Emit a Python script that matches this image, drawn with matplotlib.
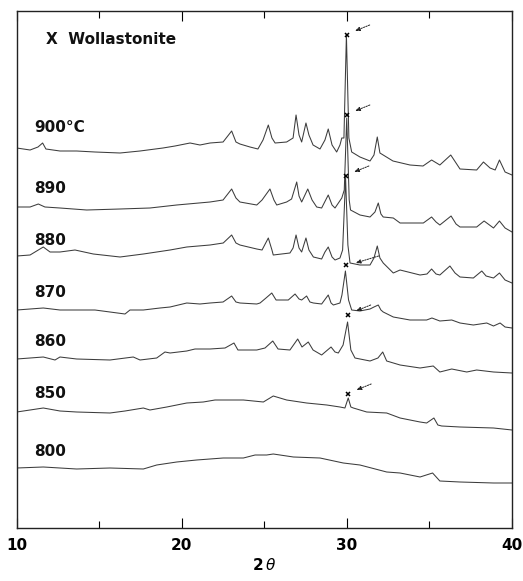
import matplotlib
matplotlib.use("Agg")
import matplotlib.pyplot as plt

# ---------------- data (2theta, intensity in arbitrary stacked units) ----------------
tt_900 = [10.00, 10.81, 11.29, 11.57, 11.77, 12.62, 13.63, 14.74, 16.26, 17.47, 18.86, 19.59,
          20.50, 21.10, 21.71, 22.50, 23.02, 23.28, 23.52, 24.13, 24.61, 24.92, 25.24, 25.46,
          25.65, 26.35, 26.74, 26.92, 27.10, 27.26, 27.52, 27.70, 27.95, 28.37, 28.67, 28.87,
          29.10, 29.38, 29.58, 29.69, 29.82, 29.97, 30.12, 30.29, 30.79, 31.40, 31.64, 31.84,
          32.00, 32.79, 33.82, 34.61, 35.13, 35.63, 36.29, 36.85, 37.86, 38.27, 38.67, 38.98,
          39.24, 39.58, 40.00]
I_900 = [380, 378, 381, 385, 379, 377, 377, 376, 375, 377, 380, 382,
         385, 383, 385, 386, 397, 386, 384, 381, 379, 388, 403, 390,
         385, 386, 390, 413, 393, 386, 405, 393, 383, 379, 388, 399,
         383, 376, 383, 390, 390, 493, 390, 376, 371, 367, 373, 391,
         375, 367, 363, 362, 368, 363, 373, 359, 358, 366, 360, 358,
         368, 356, 353]

tt_890 = [10.00, 10.81, 11.31, 11.71, 12.62, 14.24, 16.26, 18.07, 19.69, 21.71, 22.50, 23.02,
          23.28, 23.52, 24.54, 24.86, 25.34, 25.58, 25.75, 26.35, 26.65, 26.96, 27.10, 27.26,
          27.63, 27.89, 28.17, 28.47, 28.87, 29.10, 29.28, 29.69, 29.84, 29.99, 30.14, 30.22,
          30.79, 31.40, 31.70, 31.90, 32.06, 32.20, 32.81, 33.22, 34.63, 35.13, 35.40, 35.63,
          36.31, 36.61, 36.85, 37.86, 38.31, 38.88, 39.24, 39.58, 40.00]
I_890 = [321, 321, 324, 321, 320, 318, 319, 320, 323, 326, 328, 339,
         330, 326, 323, 328, 339, 328, 323, 326, 329, 346, 332, 326,
         339, 328, 321, 320, 333, 323, 320, 330, 338, 410, 328, 318,
         313, 311, 316, 325, 314, 311, 310, 305, 305, 311, 306, 303,
         312, 304, 301, 301, 307, 300, 307, 300, 296]

tt_880 = [10.00, 10.81, 11.61, 12.02, 12.62, 13.53, 14.64, 16.26, 17.67, 19.29, 20.30, 21.71,
          22.51, 23.02, 23.28, 23.52, 24.54, 24.86, 25.24, 25.46, 25.54, 26.55, 26.74, 26.92,
          27.10, 27.26, 27.52, 27.70, 27.97, 28.47, 28.67, 28.87, 29.10, 29.28, 29.58, 29.74,
          29.92, 30.06, 30.19, 30.79, 31.40, 31.64, 31.84, 32.00, 32.20, 32.81, 33.22, 34.43,
          34.85, 35.13, 35.40, 35.63, 36.24, 36.55, 36.85, 37.66, 38.17, 38.43, 38.88, 39.24,
          39.58, 40.00]
I_880 = [272, 273, 281, 276, 276, 278, 274, 271, 274, 278, 281, 283,
         285, 293, 285, 283, 279, 278, 290, 278, 273, 275, 280, 293,
         280, 276, 290, 278, 271, 269, 276, 281, 271, 268, 270, 278,
         350, 283, 265, 263, 263, 270, 282, 270, 265, 255, 258, 253,
         254, 259, 254, 253, 262, 255, 251, 250, 257, 252, 250, 255,
         248, 245]

tt_870 = [10.00, 10.81, 11.61, 12.62, 13.63, 14.74, 15.65, 16.56, 16.86, 17.67, 18.68, 19.29,
          20.30, 21.10, 21.71, 22.50, 23.02, 23.28, 23.52, 24.54, 24.74, 25.10, 25.45, 25.71,
          25.95, 26.45, 26.86, 27.10, 27.26, 27.56, 27.76, 27.97, 28.47, 28.87, 29.04, 29.18,
          29.58, 29.70, 29.91, 30.10, 30.29, 30.79, 31.40, 31.64, 31.90, 32.06, 32.20, 32.81,
          33.82, 34.83, 35.15, 35.63, 36.35, 36.85, 37.66, 38.47, 38.88, 39.28, 39.58, 40.00]
I_870 = [218, 219, 220, 218, 218, 218, 216, 214, 218, 218, 220, 221,
         225, 224, 225, 226, 232, 226, 225, 224, 225, 230, 235, 228,
         228, 228, 234, 229, 228, 232, 226, 225, 224, 233, 225, 223,
         225, 233, 257, 228, 218, 217, 219, 221, 223, 218, 216, 211,
         208, 208, 210, 207, 208, 205, 203, 205, 202, 205, 201, 200]

tt_860 = [10.00, 10.81, 11.61, 12.32, 12.62, 13.63, 15.65, 17.06, 17.47, 18.48, 18.98, 19.29,
          20.30, 20.80, 21.71, 22.62, 23.16, 23.40, 24.54, 25.04, 25.51, 25.83, 26.55, 27.02,
          27.28, 27.66, 27.95, 28.47, 29.04, 29.28, 29.48, 29.77, 30.04, 30.24, 30.49, 31.40,
          31.88, 32.17, 32.41, 33.22, 34.43, 35.23, 35.63, 36.35, 37.26, 37.86, 38.88, 40.00]
I_860 = [169, 170, 171, 168, 171, 169, 168, 171, 168, 170, 176, 175,
         177, 179, 179, 180, 185, 178, 178, 180, 187, 179, 178, 189,
         181, 186, 178, 173, 181, 176, 175, 183, 206, 178, 170, 167,
         170, 176, 167, 163, 160, 162, 156, 159, 156, 158, 156, 155]

tt_850 = [10.00, 10.81, 11.61, 12.62, 13.63, 15.65, 16.56, 17.67, 18.07, 19.09, 20.30, 21.30,
          22.01, 22.72, 23.73, 24.94, 25.54, 26.35, 27.56, 28.78, 29.58, 29.88, 30.08, 30.24,
          30.39, 31.20, 32.41, 33.22, 34.43, 34.83, 35.27, 35.51, 35.74, 36.85, 38.88, 40.00]
I_850 = [116, 118, 120, 117, 116, 115, 117, 120, 118, 121, 125, 126,
         128, 128, 128, 126, 132, 128, 125, 123, 121, 120, 130, 121,
         120, 116, 115, 110, 106, 105, 110, 103, 102, 101, 100, 98]

tt_800 = [10.00, 11.61, 13.63, 15.65, 17.67, 18.48, 19.69, 20.90, 22.51, 23.73, 24.44, 25.14,
          25.54, 26.76, 28.37, 29.78, 30.79, 32.41, 33.22, 34.43, 35.19, 35.63, 36.85, 38.88, 40.00]
I_800 = [60, 61, 59, 60, 59, 63, 66, 68, 70, 70, 73, 73,
         74, 71, 70, 65, 63, 56, 55, 51, 55, 47, 46, 45, 45]

trace_labels = ["900\u00b0C", "890", "880", "870", "860", "850", "800"]
label_I = [401, 340, 288, 236, 186, 135, 76]

# wollastonite markers (peak tops)
mark_tt = [29.98, 29.99, 29.93, 29.92, 30.04, 30.07]
mark_I = [493, 413, 352, 263, 213, 134]

xticks = [10, 20, 30, 40]
minor_xticks = [15, 25, 35]

# ---------------- plotting ----------------
W, H = 523, 581
fig = plt.figure(figsize=(W / 100, H / 100), dpi=100)
ax = fig.add_axes([16.7 / W, 1 - 528 / H, (512 - 16.7) / W, (528 - 11) / H])

traces = [(tt_900, I_900), (tt_890, I_890), (tt_880, I_880), (tt_870, I_870),
          (tt_860, I_860), (tt_850, I_850), (tt_800, I_800)]
for tt, ii in traces:
    ax.plot(tt, ii, color="#3c3c3c", lw=0.75, solid_joinstyle="round")

for lab, yi in zip(trace_labels, label_I):
    ax.text(11.05, yi, lab, fontsize=11, fontweight="bold", family="DejaVu Sans",
            ha="left", va="center", color="#111111")

ax.text(11.8, 488, "X  Wollastonite", fontsize=11, fontweight="bold",
        family="DejaVu Sans", ha="left", va="center", color="#111111")

ax.plot(mark_tt, mark_I, linestyle="none", marker="x", markersize=3.5,
        markeredgewidth=1.1, color="black")

for k, (mx, my) in enumerate(zip(mark_tt, mark_I)):
    if k == 3:
        head = (mx + 0.6, my + 2)
        tail = (mx + 2.0, my + 9)
    else:
        head = (mx + 0.5, my + 4)
        tail = (mx + 1.4, my + 10)
    ax.annotate("", xy=head, xytext=tail,
                arrowprops=dict(arrowstyle="-|>,head_length=0.3,head_width=0.12",
                                lw=0.7, ls=(0, (1.5, 1.2)), color="#222222",
                                shrinkA=0, shrinkB=0))

ax.set_xlim(10, 40)
ax.set_ylim(0, 517)
ax.set_yticks([])
ax.set_xticks(xticks)
ax.set_xticks(minor_xticks, minor=True)
ax.set_xticklabels([str(v) for v in xticks], fontsize=11, fontweight="bold",
                   family="DejaVu Sans")
ax.tick_params(axis="x", which="major", direction="in", length=7, width=0.8,
               top=True, pad=7)
ax.tick_params(axis="x", which="minor", direction="in", length=5, width=0.8, top=True)
for s in ax.spines.values():
    s.set_linewidth(1.0)
    s.set_color("#222222")

ax.set_xlabel(r"$\mathbf{2}\,\theta$", fontsize=11, labelpad=3)

fig.savefig("out.png", dpi=100)
